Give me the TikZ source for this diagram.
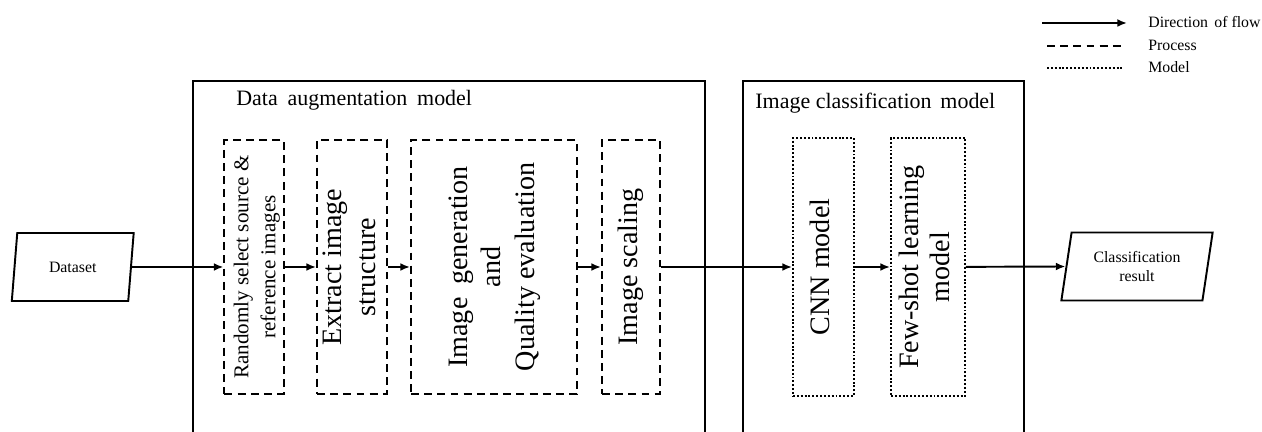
\documentclass[tikz,border=0pt]{standalone}
\usepackage{graphicx,tikz}
\usepackage{fontspec}
\setmainfont{Liberation Serif}
\usetikzlibrary {positioning,shapes.geometric,arrows.meta}
\tikzset{
    proc/.style={draw,line width=1.1pt,dash pattern=on 4.5pt off 3pt,minimum height=5.08cm,inner sep=0pt,font=\fontsize{16}{19}\selectfont},
    mdl/.style={draw,line width=1.1pt,dash pattern=on 1.1pt off 1.1pt,minimum height=5.16cm,inner sep=0pt,font=\fontsize{16}{17.5}\selectfont},
    io/.style={draw,line width=1.1pt,trapezium,trapezium left angle=77.5,trapezium right angle=102.5,trapezium stretches,minimum height=1.36cm,inner sep=0pt,align=center,font=\fontsize{9}{11}\selectfont},
    frame/.style={line width=1.4pt},
    flow/.style={-{Latex[length=5.5pt,width=4.5pt]},line width=1.1pt},
    legtext/.style={anchor=west,inner sep=0pt,font=\fontsize{9}{11}\selectfont},
}
\newcommand{\procBox}[4]{%
    \node[proc,minimum width=#2cm] (#3) at (#1,3.30) {\rotatebox{90}{\begin{tabular}{@{}c@{}}#4\end{tabular}}};
}
\newcommand{\mdlBox}[4]{%
    \node[mdl,minimum width=#2cm] (#3) at (#1,3.30) {\rotatebox{90}{\begin{tabular}{@{}c@{}}#4\end{tabular}}};
}

\begin{document}
\begin{tikzpicture}
    \useasboundingbox (0,0) rectangle (25.24,8.64);
    %frames
    \draw[frame] (3.86,0) -- (3.86,7.02) -- (14.10,7.02) -- (14.10,0);
    \draw[frame] (14.86,0) -- (14.86,7.02) -- (20.48,7.02) -- (20.48,0);
    \node[anchor=base west,inner sep=0pt,font=\fontsize{12.5}{15}\selectfont] (augTitle) at (4.72,6.52) {Data\hspace{0.2em} augmentation\hspace{0.2em} model};
    \node[anchor=base west,inner sep=0pt,font=\fontsize{12.5}{15}\selectfont] (clsTitle) at (15.10,6.46) {Image classification\hspace{0.15em} model};
    %in/out
    \node[io,minimum width=2.44cm] (data) at (1.455,3.30) {Dataset};
    \node[io,minimum width=3.04cm] (result) at (22.74,3.31) {Classification\\result};
    %augmentation
    \node[proc,minimum width=1.16cm,font=\fontsize{12}{15.4}\selectfont] (select) at (5.08,3.30) {\hspace{0.1cm}\rotatebox{90}{\begin{tabular}{@{}c@{}}Randomly select source \&\\reference images\end{tabular}}};
    \procBox{7.04}{1.40}{extract}{Extract image\\structure}
    \procBox{9.88}{3.32}{generate}{Image\hspace{0.2em} generation\\and\\Quality evaluation}
    \procBox{12.62}{1.16}{scale}{Image scaling}
    %classification
    \mdlBox{16.47}{1.22}{cnn}{CNN model}
    \mdlBox{18.56}{1.48}{fewshot}{Few-shot learning\\model}
    %flow
    \draw[flow] (data.east) -- (select.west);
    \draw[flow] (select) -- (extract);
    \draw[flow] (extract) -- (generate);
    \draw[flow] (generate) -- (scale);
    \draw[flow] (scale) -- (cnn);
    \draw[flow] (cnn) -- (fewshot);
    \draw[flow] (fewshot) -- (result.west);
    %legend
    \coordinate (a1) at (20.84,8.18);
    \coordinate (a2) at (22.54,8.18);
    \coordinate (d1) at (20.94,7.72);
    \coordinate (d2) at (22.46,7.72);
    \coordinate (m1) at (20.94,7.28);
    \coordinate (m2) at (22.46,7.28);
    \draw[flow] (a1) -- (a2);
    \draw[line width=1.1pt,dash pattern=on 4.5pt off 3pt] (d1) -- (d2);
    \draw[line width=1.1pt,dash pattern=on 1.1pt off 1.1pt] (m1) -- (m2);
    \node[legtext] (flowText) at (22.96,8.20) {Direction\hspace{0.15em} of flow};
    \node[legtext] (procText) at (22.96,7.74) {Process};
    \node[legtext] (mdlText) at (22.96,7.30) {Model};
\end{tikzpicture}
\end{document}
